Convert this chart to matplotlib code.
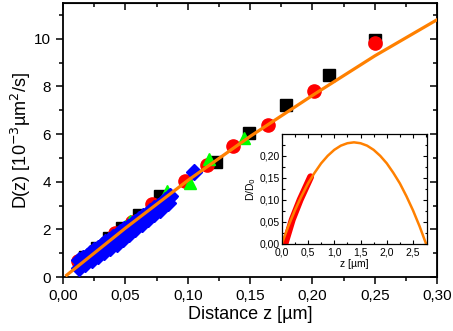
import matplotlib
matplotlib.use("Agg")
import matplotlib.pyplot as plt
from matplotlib.ticker import MultipleLocator, FuncFormatter

plt.rcParams['font.family'] = ['Liberation Sans', 'DejaVu Sans']

# main panel data, D in 10^-3 um^2/s, z in um
black_z = [0.0177, 0.027, 0.0366, 0.047, 0.0608, 0.0777, 0.1226, 0.149, 0.179, 0.2134, 0.25]
black_D = [0.85, 1.20, 1.62, 2.05, 2.60, 3.40, 4.84, 6.04, 7.23, 8.46, 9.93]
red_z = [0.0124, 0.025, 0.042, 0.055, 0.0715, 0.098, 0.1153, 0.136, 0.164, 0.2016, 0.25]
red_D = [0.68, 1.05, 1.85, 2.30, 3.05, 4.05, 4.72, 5.50, 6.36, 7.79, 9.82]
green_z = [0.0298, 0.050, 0.054, 0.0836, 0.102, 0.117, 0.145]
green_D = [1.30, 2.15, 2.35, 3.60, 3.95, 4.95, 5.83]
blue_z = [0.013, 0.016, 0.019, 0.022, 0.025, 0.028, 0.031, 0.034, 0.037, 0.040,
          0.043, 0.046, 0.049, 0.052, 0.055, 0.058, 0.061, 0.064, 0.067, 0.070,
          0.073, 0.076, 0.079, 0.082, 0.085,
          0.013, 0.018, 0.023, 0.028, 0.033, 0.038, 0.043, 0.048, 0.053, 0.058,
          0.063, 0.068, 0.073, 0.078, 0.084, 0.086, 0.105]
blue_D = [0.70, 0.80, 0.90, 1.01, 1.12, 1.23, 1.34, 1.45, 1.56, 1.67,
          1.78, 1.89, 2.00, 2.11, 2.22, 2.33, 2.44, 2.55, 2.66, 2.77,
          2.88, 2.99, 3.10, 3.22, 3.34,
          0.40, 0.55, 0.70, 0.87, 1.04, 1.22, 1.40, 1.60, 1.80, 2.00,
          2.22, 2.44, 2.66, 2.82, 3.10, 3.40, 4.40]
fit_z = [0.003, 0.05, 0.10, 0.15, 0.20, 0.25, 0.30]
fit_D = [0.08, 2.05, 4.05, 5.90, 7.62, 9.28, 10.80]

# inset data, D/D0 vs z
curve_z = [0.0, 0.125, 0.25, 0.375, 0.5, 0.625, 0.75, 0.875, 1.0, 1.125, 1.25, 1.375,
           1.5, 1.625, 1.75, 1.875, 2.0, 2.125, 2.25, 2.375, 2.5, 2.625, 2.75]
curve_r = [0.0, 0.040, 0.076, 0.108, 0.137, 0.161, 0.1825, 0.1995, 0.213, 0.2225, 0.228, 0.230,
           0.228, 0.2225, 0.213, 0.1995, 0.1825, 0.161, 0.137, 0.108, 0.076, 0.040, 0.0]
meas_z = [0.06, 0.20, 0.35, 0.55]
meas_r = [0.0, 0.055, 0.10, 0.152]

orange = '#FF8000'

fig = plt.figure(figsize=(4.53, 3.31), dpi=100)
ax = fig.add_axes([0.139, 0.163, 0.826, 0.828])

ax.plot(black_z, black_D, 's', color='black', markersize=8.5, zorder=2)
ax.plot(red_z, red_D, 'o', color='red', markersize=9.5, zorder=3)
ax.plot(green_z, green_D, '^', color='#00FF00', markersize=9, zorder=4)
ax.plot(blue_z, blue_D, 'D', color='blue', markersize=8, zorder=5)
ax.plot(fit_z, fit_D, '-', color=orange, lw=2.3, zorder=6)

ax.set_xlim(0, 0.30)
ax.set_ylim(0, 11.5)
ax.xaxis.set_major_locator(MultipleLocator(0.05))
ax.xaxis.set_minor_locator(MultipleLocator(0.025))
ax.yaxis.set_major_locator(MultipleLocator(2))
ax.yaxis.set_minor_locator(MultipleLocator(1))
ax.xaxis.set_major_formatter(FuncFormatter(lambda v, p: f"{v:.2f}".replace('.', ',')))
ax.tick_params(which='both', direction='out', labelsize=11, width=1.1)
ax.tick_params(which='major', length=5)
ax.tick_params(which='minor', length=3)
for s in ax.spines.values():
    s.set_linewidth(1.3)

# mirrored axes with inward ticks on top and right
top = ax.secondary_xaxis('top')
top.xaxis.set_major_locator(MultipleLocator(0.05))
top.xaxis.set_minor_locator(MultipleLocator(0.025))
top.tick_params(which='both', direction='in', labeltop=False, width=1.1)
top.tick_params(which='major', length=5)
top.tick_params(which='minor', length=3)
right = ax.secondary_yaxis('right')
right.yaxis.set_major_locator(MultipleLocator(2))
right.yaxis.set_minor_locator(MultipleLocator(1))
right.tick_params(which='both', direction='in', labelright=False, width=1.1)
right.tick_params(which='major', length=5)
right.tick_params(which='minor', length=3)

ax.set_xlabel('Distance z [µm]', fontsize=13, labelpad=2)
ax.set_ylabel('D(z) [10$^{-3}$µm$^2$/s]', fontsize=13, labelpad=1)

# inset
ins = fig.add_axes([0.622, 0.263, 0.321, 0.331])
ins.plot(meas_z, meas_r, '-', color='red', lw=5, solid_capstyle='round')
ins.plot(curve_z, curve_r, '-', color=orange, lw=1.8)
ins.set_xlim(0, 2.77)
ins.set_ylim(0, 0.248)
ins.xaxis.set_major_locator(MultipleLocator(0.5))
ins.xaxis.set_minor_locator(MultipleLocator(0.25))
ins.yaxis.set_major_locator(MultipleLocator(0.05))
ins.yaxis.set_minor_locator(MultipleLocator(0.025))
ins.xaxis.set_major_formatter(FuncFormatter(lambda v, p: f"{v:.1f}".replace('.', ',')))
ins.yaxis.set_major_formatter(FuncFormatter(lambda v, p: f"{v:.2f}".replace('.', ',')))
ins.tick_params(which='both', direction='in', top=True, right=True, labelsize=7.5, pad=1.5, width=0.8)
ins.tick_params(axis='x', pad=2.5)
ins.tick_params(which='major', length=3)
ins.tick_params(which='minor', length=1.8)
for s in ins.spines.values():
    s.set_linewidth(0.9)
ins.set_xlabel('z [µm]', fontsize=7.5, labelpad=1)
ins.set_ylabel('D/D$_0$', fontsize=7.5, labelpad=1)

fig.savefig('out.png', dpi=100)
